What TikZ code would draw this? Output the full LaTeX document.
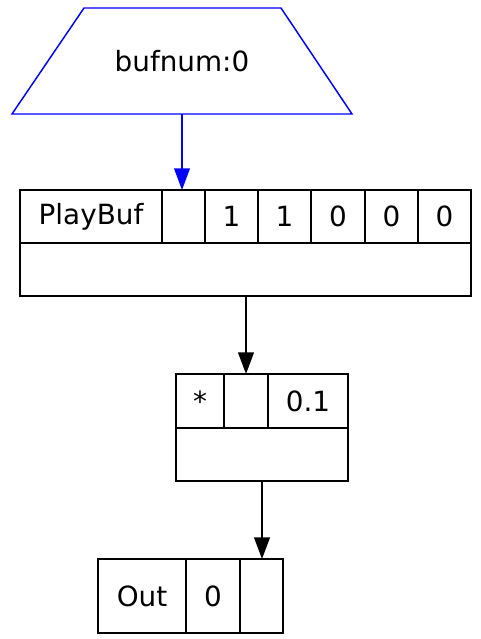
\documentclass[tikz,border=0pt]{standalone}
\usepackage{fontspec}
\setmainfont{DejaVu Sans}
\usetikzlibrary{arrows.meta}
\tikzset{
  cellbox/.style={draw=black, line width=1pt, rectangle, inner sep=0pt, outer sep=0pt},
  blkarrow/.style={draw=black, line width=1pt, -{Triangle[length=11pt,width=8pt]}},
  bluarrow/.style={draw=blue, line width=0.75pt, -{Triangle[length=11pt,width=8pt]}},
  ctlline/.style={draw=blue, line width=0.75pt, line join=miter}
}
\newcommand\mycell[6]{\node[cellbox, minimum width={(#4-#2)*0.51pt}, minimum height={(#5-#3)*0.51pt}] (#1) at ({(#2+#4)/2},{(#3+#5)/2}) {#6};}
\begin{document}
\begin{tikzpicture}[x=0.51pt,y=-0.51pt, font=\fontsize{14.2}{16}\selectfont]
\useasboundingbox (0,0) rectangle (481,639);
% control input
\draw[ctlline] (12,114) -- (84,8) -- (281,8) -- (352,114) -- cycle;
\node[inner sep=0pt] (buf) at (182,61) {bufnum:0};
\coordinate (bufbot) at (182,114);
% PlayBuf
\mycell{pb1}{20}{190}{162}{243}{PlayBuf}
\mycell{pb2}{162}{190}{205}{243}{}
\mycell{pb3}{205}{190}{258}{243}{1}
\mycell{pb4}{258}{190}{311}{243}{1}
\mycell{pb5}{311}{190}{365}{243}{0}
\mycell{pb6}{365}{190}{418}{243}{0}
\mycell{pb7}{418}{190}{471}{243}{0}
\mycell{pbout}{20}{243}{471}{296}{}
% multiply
\mycell{mul1}{176}{374}{224}{428}{*}
\mycell{mul2}{224}{374}{268}{428}{}
\mycell{mul3}{268}{374}{348}{428}{0.1}
\mycell{mulout}{176}{428}{348}{481}{}
% Out
\mycell{out1}{98}{559}{186}{633}{Out}
\mycell{out2}{186}{559}{240}{633}{0}
\mycell{out3}{240}{559}{283}{633}{}
% connectors
\draw[bluarrow] (bufbot) -- (bufbot |- pb2.north);
\draw[blkarrow] (pbout.south -| mul2.north) -- (mul2.north);
\draw[blkarrow] (mulout.south) -- (out3.north -| mulout.south);
\end{tikzpicture}
\end{document}
